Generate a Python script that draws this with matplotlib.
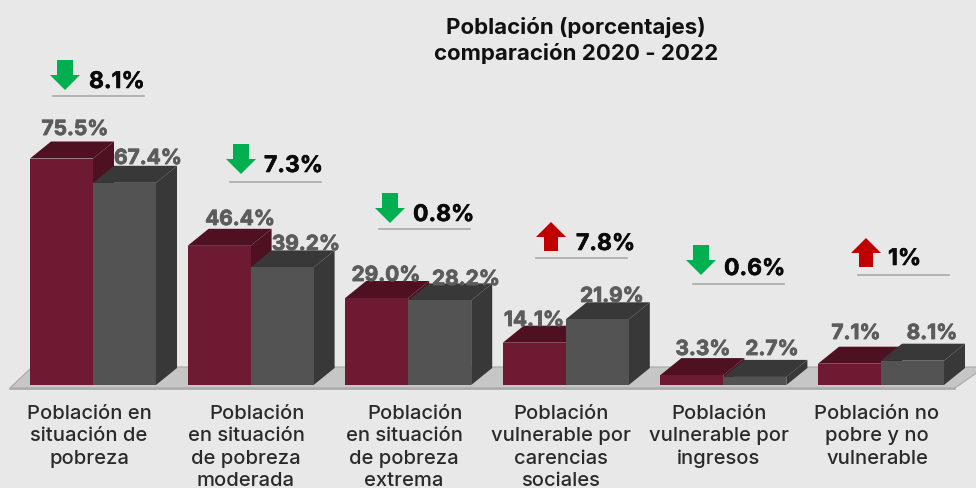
import matplotlib
matplotlib.use("Agg")
import matplotlib.pyplot as plt
from matplotlib.patches import Polygon
from matplotlib.transforms import Affine2D
import matplotlib.patheffects as pe

categories = [
    ["Población en", "situación de", "pobreza"],
    ["Población", "en situación", "de pobreza", "moderada"],
    ["Población", "en situación", "de pobreza", "extrema"],
    ["Población", "vulnerable por", "carencias", "sociales"],
    ["Población", "vulnerable por", "ingresos"],
    ["Población no", "pobre y no", "vulnerable"],
]
values_2020 = [75.5, 46.4, 29.0, 14.1, 3.3, 7.1]
values_2022 = [67.4, 39.2, 28.2, 21.9, 2.7, 8.1]
labels_2020 = ["75.5%", "46.4%", "29.0%", "14.1%", "3.3%", "7.1%"]
labels_2022 = ["67.4%", "39.2%", "28.2%", "21.9%", "2.7%", "8.1%"]
changes = ["8.1%", "7.3%", "0.8%", "7.8%", "0.6%", "1%"]
directions = ["down", "down", "down", "up", "down", "up"]
title_lines = ["Población (porcentajes)", "comparación 2020 - 2022"]

# layout (figure pixels, y from top)
W, H = 976, 488
X0, STEP, BASE, PX_PER_UNIT = 30, 157.6, 385, 3.0
BAR_W, DX, DY = 63, 21, 17
lab20_pos = [(75, 129), (240, 219), (386, 275), (534, 320), (703, 349), (856, 333)]
lab22_pos = [(148, 158), (306, 244), (466, 279), (612, 296), (772, 349), (932, 333)]
arrow_pos = [(65, 60), (241, 144), (390, 193), (551, 222), (701, 245), (866, 238)]
change_pos = [(89, 82), (264, 166), (413, 215), (576, 244), (724, 269), (888, 259)]
rule_pos = [(53, 144, 96), (230, 321, 182), (379, 470, 229), (536, 627, 258), (693, 784, 284), (858, 949, 275)]
cat_cx = [89, 246, 404, 561, 719, 877]
first_shift = [0, 11, 11, 0, 0, 0]
BG, MAROON, MAROON_D, GREY, GREY_D = "#e8e8e8", "#6d1a32", "#4f1022", "#545353", "#383838"
FONT = ["Inter", "DejaVu Sans"]

fig = plt.figure(figsize=(W / 100, H / 100), dpi=100, facecolor=BG)
ax = fig.add_axes([0, 0, 1, 1])
ax.set_xlim(-X0 / STEP, (W - X0) / STEP)
ax.set_ylim(-(H - BASE) / PX_PER_UNIT, BASE / PX_PER_UNIT)
ax.axis("off")
px = Affine2D().scale(1, -1).translate(0, H)

ax.add_patch(Polygon([(10, 388), (955, 388), (985, 367), (32, 367)], closed=True, transform=px,
                     facecolor="#c6c6c6", edgecolor="#a8a8a8", lw=0.8, zorder=1))
ax.plot([10, 955], [388.5, 388.5], transform=px, color="#a6a6a6", lw=1.2, zorder=1)

bw = BAR_W / STEP
ddx, ddy = DX / STEP, DY / PX_PER_UNIT


def bar3d(x, v, front, dark, z):
    ax.bar(x, v, width=bw, align="edge", color=front, lw=0, zorder=z + 0.2)
    ax.add_patch(Polygon([(x, v), (x + bw, v), (x + bw + ddx, v + ddy), (x + ddx, v + ddy)],
                         closed=True, facecolor=dark, lw=0, zorder=z + 0.1))
    ax.add_patch(Polygon([(x + bw, 0), (x + bw + ddx, ddy), (x + bw + ddx, v + ddy), (x + bw, v)],
                         closed=True, facecolor=dark, lw=0, zorder=z + 0.1))


for i, (a, b) in enumerate(zip(values_2020, values_2022)):
    bar3d(i, a, MAROON, MAROON_D, 2 + i)
    bar3d(i + bw, b, GREY, GREY_D, 2.5 + i)


def heavy(color, w=0.6):
    return [pe.withStroke(linewidth=w, foreground=color)]


for s, (x, y) in zip(labels_2020 + labels_2022, lab20_pos + lab22_pos):
    ax.text(x, y, s, transform=px, ha="center", va="center", family=FONT, fontsize=15,
            fontweight="bold", color="#5c5c5c", zorder=20, path_effects=heavy("#5c5c5c"))

for d, (cx, top), ch, (tx, ty), (r0, r1, ry) in zip(directions, arrow_pos, changes, change_pos, rule_pos):
    if d == "down":
        pts = [(cx - 8, top), (cx + 8, top), (cx + 8, top + 15), (cx + 15, top + 15), (cx, top + 30),
               (cx - 15, top + 15), (cx - 8, top + 15)]
        col = "#00b050"
    else:
        pts = [(cx - 7, top + 29), (cx + 7, top + 29), (cx + 7, top + 15), (cx + 15, top + 15), (cx, top),
               (cx - 15, top + 15), (cx - 7, top + 15)]
        col = "#c00000"
    ax.add_patch(Polygon(pts, closed=True, transform=px, facecolor=col, lw=0, zorder=21))
    ax.text(tx, ty, ch, transform=px, ha="left", va="center", family=FONT, fontsize=16.5,
            fontweight="bold", color="#0a0a0a", zorder=21, path_effects=heavy("#0a0a0a", 0.4))
    ax.plot([r0, r1], [ry, ry], transform=px, color="#a9a9a9", lw=1.2, zorder=21)

for lines, cx, sh in zip(categories, cat_cx, first_shift):
    for j, line in enumerate(lines):
        ax.text(cx + (sh if j == 0 else 0), 414 + j * 22.3, line, transform=px, ha="center", va="center",
                family=FONT, fontsize=14.5, fontweight="medium", color="#2a2a2a", zorder=21)

for j, line in enumerate(title_lines):
    ax.text(576, 27 + j * 26, line, transform=px, ha="center", va="center", family=FONT,
            fontsize=16, fontweight="bold", color="#111111", zorder=21)

fig.savefig("out.png", dpi=100, facecolor=BG)
